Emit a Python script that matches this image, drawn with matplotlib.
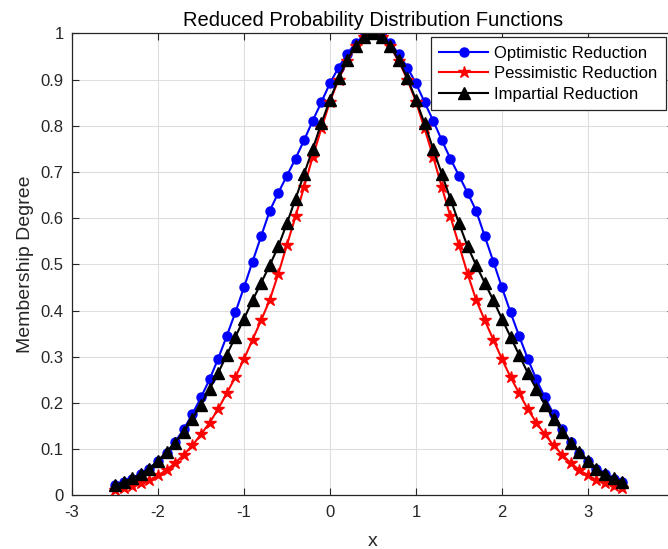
import matplotlib
matplotlib.use("Agg")
import matplotlib.pyplot as plt

plt.rcParams['font.family'] = ['Liberation Sans', 'DejaVu Sans']
plt.rcParams['axes.unicode_minus'] = False

# --- data ---
x = [-2.5, -2.4, -2.3, -2.2, -2.1, -2.0, -1.9, -1.8, -1.7, -1.6,
     -1.5, -1.4, -1.3, -1.2, -1.1, -1.0, -0.9, -0.8, -0.7, -0.6,
     -0.5, -0.4, -0.3, -0.2, -0.1, 0.0, 0.1, 0.2, 0.3, 0.4,
     0.5, 0.6, 0.7, 0.8, 0.9, 1.0, 1.1, 1.2, 1.3, 1.4,
     1.5, 1.6, 1.7, 1.8, 1.9, 2.0, 2.1, 2.2, 2.3, 2.4,
     2.5, 2.6, 2.7, 2.8, 2.9, 3.0, 3.1, 3.2, 3.3, 3.4]

optimistic = [0.022, 0.028, 0.036, 0.046, 0.058, 0.074, 0.092, 0.116, 0.143, 0.176,
              0.212, 0.251, 0.296, 0.345, 0.396, 0.450, 0.506, 0.561, 0.616, 0.655,
              0.692, 0.729, 0.769, 0.811, 0.851, 0.892, 0.926, 0.955, 0.980, 0.993,
              1.000, 0.993, 0.980, 0.955, 0.926, 0.892, 0.851, 0.811, 0.769, 0.729,
              0.692, 0.655, 0.616, 0.561, 0.506, 0.450, 0.396, 0.345, 0.296, 0.251,
              0.212, 0.176, 0.143, 0.116, 0.092, 0.074, 0.058, 0.046, 0.036, 0.028]

pessimistic = [0.011, 0.015, 0.020, 0.026, 0.033, 0.043, 0.055, 0.070, 0.088, 0.108,
               0.132, 0.157, 0.187, 0.221, 0.256, 0.295, 0.337, 0.379, 0.423, 0.480,
               0.542, 0.604, 0.668, 0.733, 0.794, 0.852, 0.900, 0.940, 0.972, 0.993,
               1.000, 0.993, 0.972, 0.940, 0.900, 0.852, 0.794, 0.733, 0.668, 0.604,
               0.542, 0.480, 0.423, 0.379, 0.337, 0.295, 0.256, 0.221, 0.187, 0.157,
               0.132, 0.108, 0.088, 0.070, 0.055, 0.043, 0.033, 0.026, 0.020, 0.015]

impartial = [0.022, 0.029, 0.037, 0.046, 0.058, 0.075, 0.094, 0.114, 0.138, 0.166,
             0.196, 0.230, 0.265, 0.304, 0.343, 0.382, 0.422, 0.460, 0.498, 0.539,
             0.589, 0.642, 0.696, 0.750, 0.805, 0.856, 0.903, 0.942, 0.973, 0.993,
             1.000, 0.993, 0.973, 0.942, 0.903, 0.856, 0.805, 0.750, 0.696, 0.642,
             0.589, 0.539, 0.498, 0.460, 0.422, 0.382, 0.343, 0.304, 0.265, 0.230,
             0.196, 0.166, 0.138, 0.114, 0.094, 0.075, 0.058, 0.046, 0.037, 0.029]

xticks = [-3, -2, -1, 0, 1, 2, 3]
yticks = [0, 0.1, 0.2, 0.3, 0.4, 0.5, 0.6, 0.7, 0.8, 0.9, 1]
ytick_labels = ['0', '0.1', '0.2', '0.3', '0.4', '0.5', '0.6', '0.7', '0.8', '0.9', '1']

# --- figure ---
fig = plt.figure(figsize=(6.68, 5.49), dpi=100)
# axes run a little past the right edge (the reference is cropped there)
ax = fig.add_axes([0.1078, 0.0978, 0.901, 0.8415])

ax.plot(x, optimistic, '-o', color='#0000ff', lw=1.5, ms=6.5, label='Optimistic Reduction')
ax.plot(x, pessimistic, '-*', color='#ff0000', lw=1.5, ms=9, label='Pessimistic Reduction')
ax.plot(x, impartial, '-^', color='black', lw=1.5, ms=8, label='Impartial Reduction')

ax.set_xlim(-3, 4)
ax.set_ylim(0, 1)
ax.set_xticks(xticks)
ax.set_yticks(yticks)
ax.set_yticklabels(ytick_labels)
ax.grid(True, color='#dedede', lw=0.8)
ax.axvline(4, color='#dedede', lw=0.8, zorder=0)
ax.set_axisbelow(True)

ax.tick_params(direction='in', top=True, right=True, labelsize=12,
               colors='#262626', length=5)
ax.tick_params(axis='x', pad=7)
ax.tick_params(axis='y', pad=6)
for s in ax.spines.values():
    s.set_color('#262626')
    s.set_linewidth(0.9)

ax.set_title('Reduced Probability Distribution Functions', fontsize=14.5, pad=5)
ax.set_xlabel('x', fontsize=14, color='#262626', labelpad=9)
ax.set_ylabel('Membership Degree', fontsize=14, color='#262626', labelpad=5)

leg = ax.legend(loc='upper right', bbox_to_anchor=(0.997, 0.932),
                bbox_transform=fig.transFigure, borderaxespad=0,
                fontsize=12, handlelength=2.9, fancybox=False,
                framealpha=1, edgecolor='#262626', labelspacing=0.33,
                borderpad=0.5, handletextpad=0.4)
leg.get_frame().set_linewidth(0.9)

fig.savefig('out.png', dpi=100)
